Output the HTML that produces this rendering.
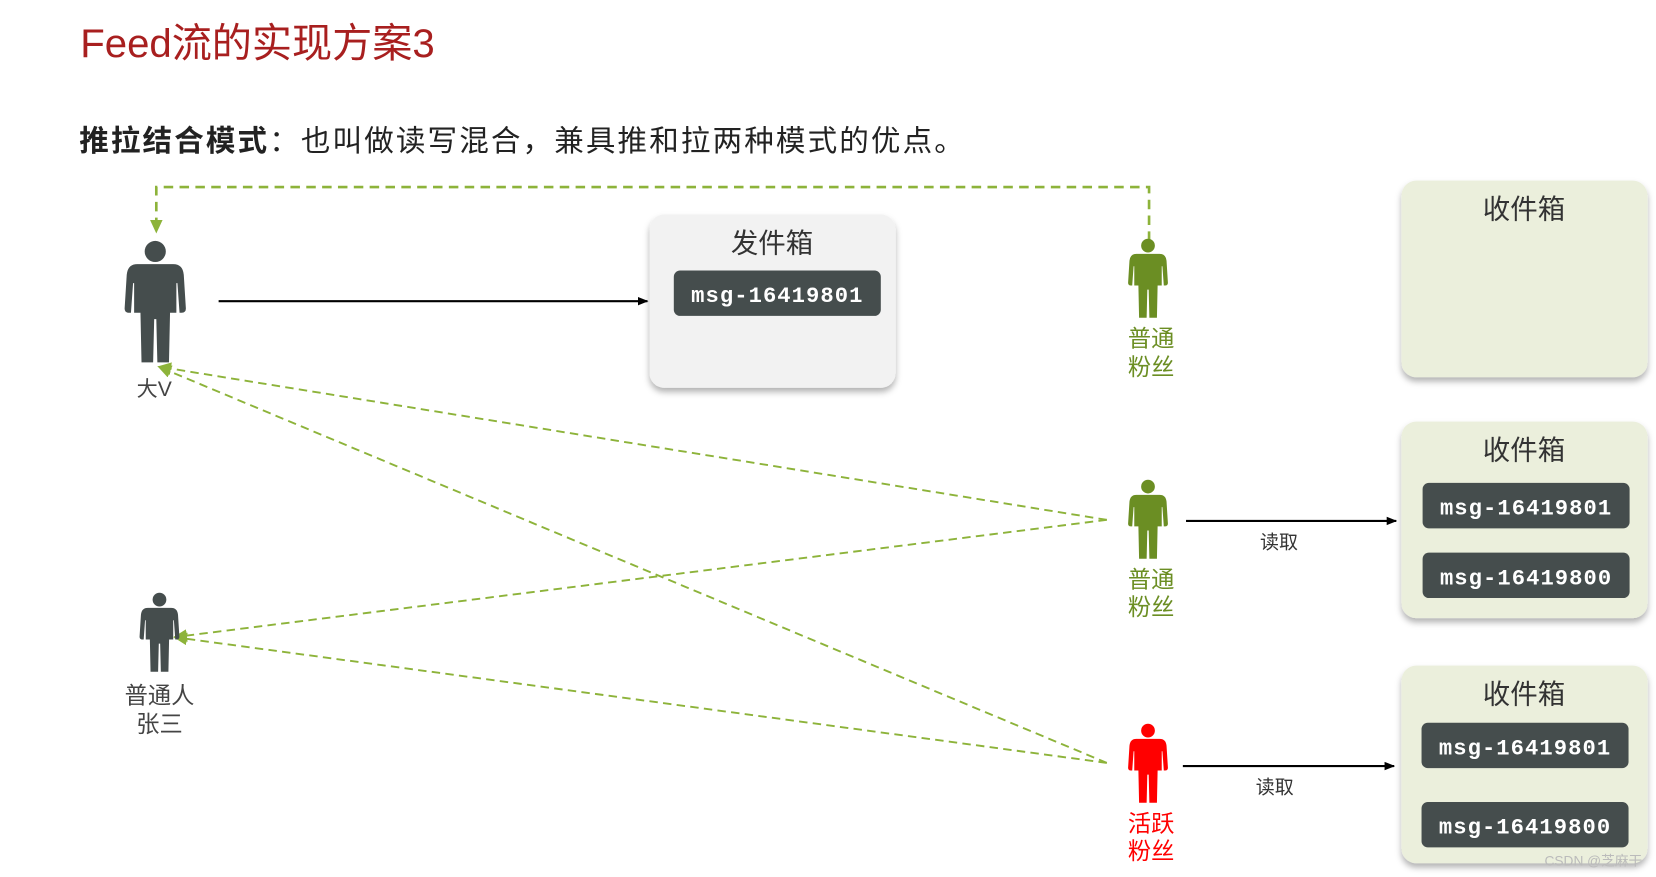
<!DOCTYPE html>
<html><head><meta charset="utf-8"><style>
html,body{margin:0;padding:0;background:#fff;width:1656px;height:877px;overflow:hidden}
svg text{font-family:"Liberation Sans","Noto Sans CJK SC",sans-serif}
.mono{font-family:"Liberation Mono","DejaVu Sans Mono",monospace;letter-spacing:1px;font-weight:bold}
</style></head><body>
<svg width="1656" height="877" viewBox="0 0 1568 830" preserveAspectRatio="none" xmlns="http://www.w3.org/2000/svg">
<defs>
<g id="p">
<circle cx="0" cy="10" r="10"/>
<path d="M-17,22 H17 Q26,22 27,32 L29,64 Q29,68 25,68 L23,68 L21,40 L20,40 L20,68 L14,68 L13,115 L2,115 L1,74 L-1,74 L-2,115 L-13,115 L-14,68 L-20,68 L-20,40 L-21,40 L-23,68 L-25,68 Q-29,68 -29,64 L-27,32 Q-26,22 -17,22 Z"/>
</g>
<marker id="ab" markerWidth="10" markerHeight="10" refX="9" refY="5" orient="auto" markerUnits="userSpaceOnUse"><path d="M0,1 L10,5 L0,9 Z" fill="#000"/></marker>
<marker id="ag" markerWidth="14" markerHeight="12" refX="12" refY="6" orient="auto" markerUnits="userSpaceOnUse"><path d="M0,0 L13,6 L0,12 Z" fill="#8db33a"/></marker>
<filter id="sh" x="-10%" y="-10%" width="120%" height="125%"><feDropShadow dx="0" dy="4" stdDeviation="3" flood-color="#000" flood-opacity="0.3"/></filter>
</defs>

<text x="76" y="54" font-size="38" fill="#a81f1f">Feed流的实现方案3</text>
<text x="75" y="143" font-size="28" fill="#222" letter-spacing="2"><tspan font-weight="bold">推拉结合模式</tspan>：也叫做读写混合，兼具推和拉两种模式的优点。</text>

<path d="M1088,228 V177 H148 V220" fill="none" stroke="#8db33a" stroke-width="2.5" stroke-dasharray="9,6" marker-end="url(#ag)"/>

<g fill="none" stroke="#8db33a" stroke-width="1.8" stroke-dasharray="8,5">
<line x1="1048" y1="492" x2="150" y2="347" marker-end="url(#ag)"/>
<line x1="1048" y1="492" x2="165" y2="603" marker-end="url(#ag)"/>
<line x1="1048" y1="722" x2="150" y2="347" marker-end="url(#ag)"/>
<line x1="1048" y1="722" x2="165" y2="603" marker-end="url(#ag)"/>
</g>

<use href="#p" transform="translate(147,228)" fill="#454d4d"/>
<text x="146" y="375" font-size="20" fill="#444" text-anchor="middle">大V</text>
<line x1="207" y1="285" x2="613" y2="285" stroke="#000" stroke-width="2" marker-end="url(#ab)"/>

<rect x="615" y="203" width="233" height="164" rx="14" fill="#f2f2f2" filter="url(#sh)"/>
<text x="731" y="239" font-size="26" fill="#333" text-anchor="middle">发件箱</text>
<rect x="638" y="256" width="196" height="43" rx="6" fill="#454d4d"/>
<text x="736" y="286" font-size="21" fill="#fff" text-anchor="middle" class="mono">msg-16419801</text>

<use href="#p" transform="translate(151,561) scale(0.65)" fill="#454d4d"/>
<text x="151" y="666" font-size="22" fill="#444" text-anchor="middle">普通人</text>
<text x="151" y="693" font-size="22" fill="#444" text-anchor="middle">张三</text>

<use href="#p" transform="translate(1087,226) scale(0.65)" fill="#6b8e23"/>
<text x="1090" y="328" font-size="22" fill="#6b8e23" text-anchor="middle">普通</text>
<text x="1090" y="355" font-size="22" fill="#6b8e23" text-anchor="middle">粉丝</text>

<use href="#p" transform="translate(1087,454) scale(0.65)" fill="#6b8e23"/>
<text x="1090" y="556" font-size="22" fill="#6b8e23" text-anchor="middle">普通</text>
<text x="1090" y="582" font-size="22" fill="#6b8e23" text-anchor="middle">粉丝</text>

<use href="#p" transform="translate(1087,685) scale(0.65)" fill="#f00"/>
<text x="1090" y="787" font-size="22" fill="#f00" text-anchor="middle">活跃</text>
<text x="1090" y="813" font-size="22" fill="#f00" text-anchor="middle">粉丝</text>

<line x1="1123" y1="493" x2="1322" y2="493" stroke="#000" stroke-width="2" marker-end="url(#ab)"/>
<text x="1211" y="519" font-size="18" fill="#333" text-anchor="middle">读取</text>
<line x1="1120" y1="725" x2="1320" y2="725" stroke="#000" stroke-width="2" marker-end="url(#ab)"/>
<text x="1207" y="751" font-size="18" fill="#333" text-anchor="middle">读取</text>

<rect x="1327" y="171" width="233" height="186" rx="14" fill="#ebefdc" filter="url(#sh)"/>
<text x="1443" y="207" font-size="26" fill="#333" text-anchor="middle">收件箱</text>

<rect x="1327" y="399" width="233" height="186" rx="14" fill="#ebefdc" filter="url(#sh)"/>
<text x="1443" y="435" font-size="26" fill="#333" text-anchor="middle">收件箱</text>
<rect x="1347" y="457" width="196" height="43" rx="6" fill="#454d4d"/>
<text x="1445" y="487" font-size="21" fill="#fff" text-anchor="middle" class="mono">msg-16419801</text>
<rect x="1347" y="523" width="196" height="43" rx="6" fill="#454d4d"/>
<text x="1445" y="553" font-size="21" fill="#fff" text-anchor="middle" class="mono">msg-16419800</text>

<rect x="1327" y="630" width="233" height="187" rx="14" fill="#ebefdc" filter="url(#sh)"/>
<text x="1443" y="666" font-size="26" fill="#333" text-anchor="middle">收件箱</text>
<rect x="1346" y="684" width="196" height="43" rx="6" fill="#454d4d"/>
<text x="1444" y="714" font-size="21" fill="#fff" text-anchor="middle" class="mono">msg-16419801</text>
<rect x="1346" y="759" width="196" height="43" rx="6" fill="#454d4d"/>
<text x="1444" y="789" font-size="21" fill="#fff" text-anchor="middle" class="mono">msg-16419800</text>

<text x="1555" y="819" font-size="13" fill="#bbb" text-anchor="end">CSDN @芝麻干</text>
</svg>
</body></html>
